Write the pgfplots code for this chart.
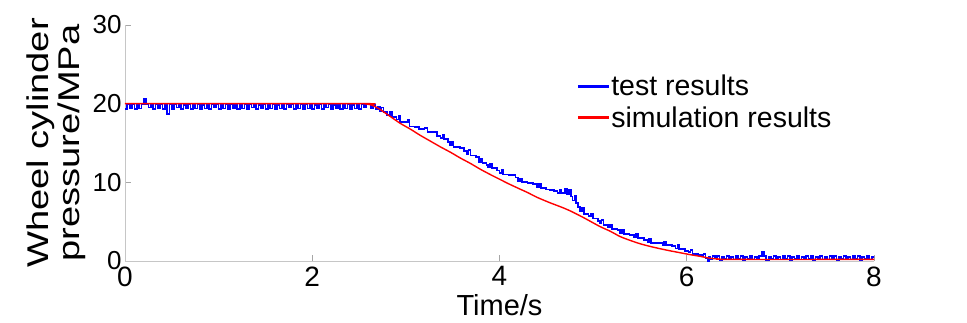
\documentclass[border=0pt]{standalone}
\usepackage{pgfplots}
\pgfplotsset{compat=1.18}
\usepackage{fontspec}
\setmainfont{Liberation Sans}
\begin{document}
\begin{tikzpicture}
\begin{axis}[
  name=ax,
  scale only axis,
  width=749pt, height=236pt,
  xmin=0, xmax=8, ymin=0, ymax=30,
  xtick={0,2,4,6,8}, ytick={0,10,20,30},
  axis x line*=bottom, axis y line*=left,
  axis line style={draw=gray!45, line width=0.8pt, -},
  tick style={draw=gray!70, line width=0.6pt},
  tick align=inside,
  major tick length=6pt,
  /pgf/number format/assume math mode=true,
  xticklabel style={font=\fontsize{28}{32}\selectfont, yshift=-2pt},
  yticklabel style={font=\fontsize{26}{30}\selectfont},
  xlabel={Time/s},
  xlabel style={font=\fontsize{29}{33}\selectfont, yshift=-1pt},
  ylabel={\scalebox{1.27}[1]{Wheel cylinder}\\\scalebox{1.27}[1]{pressure/MPa}},
  ylabel style={font=\fontsize{30}{31}\selectfont, align=center, yshift=0pt},
  legend style={draw=none, fill=none, at={(0.6,0.805)}, anchor=north west,
    font=\fontsize{28.5}{30}\selectfont, row sep=5pt},
  legend cell align=left,
]
\addplot[const plot, color=blue, line width=1.7pt,
  legend image code/.code={\fill[blue] (0pt,-0.55pt) rectangle (30pt,0.55pt);}] coordinates {
(0,19.3)(0.025,19.9)(0.05,19.4)(0.075,19.9)(0.1,19.3)(0.125,19.8)(0.15,19.4)(0.175,19.9)(0.2,20.6)(0.225,19.9)
(0.25,19.5)(0.275,19.9)(0.3,19.3)(0.325,19.9)(0.35,19.4)(0.375,19.9)(0.4,19.3)(0.425,19.8)(0.45,18.7)(0.475,19.9)
(0.5,19.3)(0.525,19.9)(0.55,19.5)(0.575,19.9)(0.6,19.3)(0.625,19.8)(0.65,19.4)(0.675,19.9)(0.7,19.3)(0.725,19.9)
(0.75,19.4)(0.775,19.9)(0.8,19.3)(0.825,19.8)(0.85,19.4)(0.875,19.9)(0.9,19.3)(0.925,19.9)(0.95,19.5)(0.975,19.9)
(1.0,19.3)(1.025,19.8)(1.05,19.4)(1.075,19.9)(1.1,19.3)(1.125,19.9)(1.15,19.4)(1.175,19.9)(1.2,19.3)(1.225,19.8)
(1.25,19.4)(1.275,19.9)(1.3,19.3)(1.325,19.9)(1.35,19.5)(1.375,19.9)(1.4,19.3)(1.425,19.8)(1.45,19.4)(1.475,19.9)
(1.5,19.3)(1.525,19.9)(1.55,19.4)(1.575,19.9)(1.6,19.3)(1.625,19.8)(1.65,19.4)(1.675,19.9)(1.7,19.3)(1.725,19.9)
(1.75,19.5)(1.775,19.9)(1.8,19.3)(1.825,19.8)(1.85,19.4)(1.875,19.9)(1.9,19.3)(1.925,19.9)(1.95,19.4)(1.975,19.9)
(2.0,19.3)(2.025,19.8)(2.05,19.4)(2.075,19.9)(2.1,19.3)(2.125,19.9)(2.15,19.5)(2.175,19.9)(2.2,19.3)(2.225,19.8)
(2.25,19.4)(2.275,19.9)(2.3,19.3)(2.325,19.9)(2.35,19.4)(2.375,19.9)(2.4,19.3)(2.425,19.8)(2.45,19.4)(2.475,19.9)
(2.5,19.3)(2.525,19.9)(2.55,19.5)(2.575,19.9)
(2.6,19.9)(2.625,19.4)(2.65,19.8)(2.675,19.3)(2.7,19.6)(2.72,19.0)(2.74,19.5)(2.76,18.9)(2.8,18.6)(2.83,19.0)
(2.85,18.3)(2.9,18.0)(2.92,18.4)(2.94,17.7)(3.0,17.6)(3.02,17.9)(3.04,17.1)(3.1,17.0)(3.14,16.8)(3.2,16.9)
(3.23,16.4)(3.3,16.4)(3.33,15.9)(3.37,15.6)(3.39,16.0)(3.41,15.5)(3.45,15.1)(3.47,14.7)(3.49,15.2)(3.51,14.5)
(3.58,14.4)(3.62,14.0)(3.65,13.6)(3.67,14.1)(3.69,13.4)(3.75,13.2)(3.78,12.6)(3.80,13.0)(3.82,12.5)(3.86,12.2)
(3.88,11.9)(3.90,12.3)(3.92,11.8)(3.97,11.5)(4.0,11.2)(4.02,11.6)(4.04,11.0)(4.1,10.9)(4.17,10.6)(4.2,10.1)
(4.22,10.5)(4.24,10.0)(4.3,9.9)(4.36,9.8)(4.40,9.4)(4.42,9.8)(4.44,9.3)(4.5,9.1)(4.54,9.0)(4.58,8.9)
(4.62,8.6)(4.64,9.0)(4.66,8.6)(4.70,9.2)(4.72,8.5)(4.74,9.0)(4.76,8.2)(4.78,7.7)(4.80,8.3)(4.82,7.4)
(4.84,6.9)(4.86,6.3)(4.88,6.8)(4.90,6.0)(4.95,5.7)(4.98,6.0)(5.0,5.4)(5.05,5.1)(5.07,4.8)(5.09,5.2)
(5.11,4.6)(5.16,4.3)(5.18,4.6)(5.20,4.1)(5.26,3.9)(5.29,3.6)(5.31,4.0)(5.33,3.4)(5.39,3.3)(5.44,3.0)
(5.46,3.4)(5.48,2.9)(5.54,2.7)(5.58,2.4)(5.60,2.8)(5.62,2.3)(5.70,2.3)(5.74,2.0)(5.76,2.4)(5.78,2.0)
(5.84,1.9)(5.88,1.6)(5.90,2.0)(5.92,1.5)(5.98,1.3)(6.02,1.1)(6.04,1.4)(6.06,0.9)(6.12,0.8)(6.16,0.6)
(6.18,0.9)(6.20,0.3)(6.22,0.0)(6.24,0.5)
(6.25,0.2)(6.275,0.6)(6.3,0.3)(6.325,0.6)(6.35,0.1)(6.375,0.5)(6.4,0.3)(6.425,0.6)(6.45,0.2)(6.475,0.5)
(6.5,0.2)(6.525,0.6)(6.55,0.3)(6.575,0.6)(6.6,0.1)(6.625,0.5)(6.65,0.3)(6.675,0.6)(6.7,0.2)(6.725,0.5)
(6.75,0.2)(6.775,0.6)(6.8,1.2)(6.825,0.6)(6.85,0.1)(6.875,0.5)(6.9,0.3)(6.925,0.6)(6.95,0.2)(6.975,0.5)
(7.0,0.2)(7.025,0.6)(7.05,0.3)(7.075,0.6)(7.1,0.1)(7.125,0.5)(7.15,0.3)(7.175,0.6)(7.2,0.2)(7.225,0.5)
(7.25,0.2)(7.275,0.6)(7.3,0.3)(7.325,0.6)(7.35,0.1)(7.375,0.5)(7.4,0.3)(7.425,0.6)(7.45,0.2)(7.475,0.5)
(7.5,0.2)(7.525,0.6)(7.55,0.3)(7.575,0.6)(7.6,0.1)(7.625,0.5)(7.65,0.3)(7.675,0.6)(7.7,0.2)(7.725,0.5)
(7.75,0.2)(7.775,0.6)(7.8,0.3)(7.825,0.6)(7.85,0.1)(7.875,0.5)(7.9,0.3)(7.925,0.6)(7.95,0.2)(7.975,0.5)(8.0,0.4)
};
\addlegendentry{test results}
\addplot[color=red, line width=1.4pt, smooth,
  legend image code/.code={\fill[red] (0pt,-0.55pt) rectangle (30pt,0.55pt);}] coordinates {
(0,20.0)(2.50,20.0)(2.58,19.95)(2.64,19.8)(2.72,19.3)(2.83,18.4)(2.94,17.5)(3.05,16.75)(3.15,16.0)(3.26,15.25)
(3.37,14.5)(3.48,13.8)(3.58,13.1)(3.69,12.4)(3.79,11.7)(3.90,11.0)(4.00,10.4)(4.10,9.8)(4.19,9.3)(4.30,8.7)
(4.40,8.1)(4.54,7.4)(4.65,6.9)(4.75,6.4)(4.90,5.5)(5.07,4.4)(5.18,3.8)(5.29,3.1)(5.40,2.6)(5.50,2.2)
(5.61,1.85)(5.72,1.55)(5.82,1.3)(5.93,1.05)(6.04,0.8)(6.14,0.6)(6.25,0.35)(6.35,0.25)(6.5,0.2)(8.0,0.2)
};
\addlegendentry{simulation results}
\end{axis}
\pgfresetboundingbox
\path[use as bounding box] ([xshift=-125pt,yshift=-61pt]ax.south west) rectangle ++(967pt,322pt);
\end{tikzpicture}
\end{document}
